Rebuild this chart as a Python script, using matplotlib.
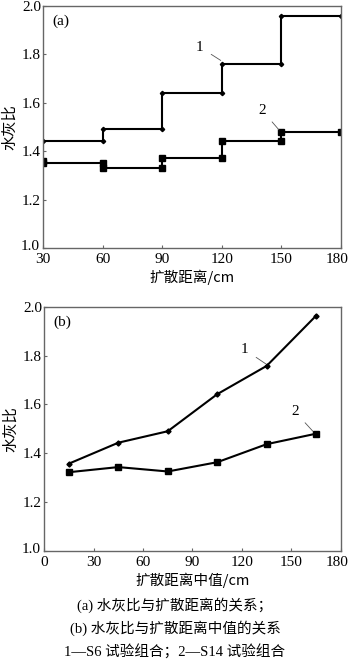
import matplotlib
matplotlib.use("Agg")
import matplotlib.pyplot as plt
from matplotlib.transforms import ScaledTranslation

plt.rcParams['font.family'] = ['Liberation Serif', 'Noto Sans CJK SC']

# (a) step profiles over the diffusion distance
dist_a = [30, 60, 90, 120, 150, 180]
wc_s6_a = [1.44, 1.49, 1.64, 1.76, 1.96]
wc_s14_a_start = [1.36, 1.33, 1.37, 1.44, 1.48]
wc_s14_a = [1.35, 1.33, 1.37, 1.44, 1.48]

# (b) values at the midpoint of each distance interval
dist_mid = [15, 45, 75, 105, 135, 165]
wc_s6_b = [1.357, 1.443, 1.49, 1.642, 1.758, 1.964]
wc_s14_b = [1.322, 1.343, 1.325, 1.363, 1.437, 1.48]

xticks_a = [30, 60, 90, 120, 150, 180]
xticks_b = [0, 30, 60, 90, 120, 150, 180]
yticks = [1.0, 1.2, 1.4, 1.6, 1.8, 2.0]

cjk = ['Noto Sans CJK SC', 'DejaVu Sans']
spine_col = '#666666'
fs = 10.5
tfs = 11

fig = plt.figure(figsize=(3.5, 6.7), dpi=100)
ax1 = fig.add_axes([0.123, 0.630, 0.851, 0.361])
ax2 = fig.add_axes([0.126, 0.178, 0.848, 0.364])


def nudge(label, dx_px, dy_px):
    label.set_transform(label.get_transform() +
                        ScaledTranslation(dx_px / 100, dy_px / 100,
                                          fig.dpi_scale_trans))


def style(ax, xticks, xlim):
    ax.set_xlim(*xlim)
    ax.set_ylim(1.0, 2.0)
    ax.set_xticks(xticks)
    ax.set_yticks(yticks)
    ax.set_yticklabels([f"{v:.1f}" for v in yticks])
    ax.tick_params(direction='in', length=2.5, width=0.8, colors=spine_col,
                   labelcolor='black', labelsize=tfs)
    ax.tick_params(axis='x', pad=3.5)
    ax.tick_params(axis='y', pad=1.5)
    for s in ax.spines.values():
        s.set_color(spine_col)
        s.set_linewidth(1.0)
    ax.set_ylabel('水灰比', family=cjk, fontsize=11, labelpad=2)
    # keep the corner labels apart and the rightmost one inside the figure
    nudge(ax.get_xticklabels()[-1], -4, 0)
    nudge(ax.get_yticklabels()[0], -1, 3)


# ---- panel (a): stepped lines ----
x1, y1 = [], []
for i, v in enumerate(wc_s6_a):
    x1 += [dist_a[i], dist_a[i + 1]]
    y1 += [v, v]
ax1.plot(x1, y1, color='black', lw=1.5, marker='D', ms=2.2)

# S14: the first interval begins with a short jump at the left edge
x2, y2 = [dist_a[0]], [wc_s14_a_start[0]]
for i, v in enumerate(wc_s14_a):
    x2 += [dist_a[i], dist_a[i + 1]]
    y2 += [v, v]
ax1.plot(x2, y2, color='black', lw=1.5, marker='s', ms=3.8)

style(ax1, xticks_a, (30, 180))
ax1.set_xlabel('扩散距离/cm', family=cjk, fontsize=fs, labelpad=3)
ax1.text(0.03, 0.965, '(a)', transform=ax1.transAxes, fontsize=tfs,
         va='top', ha='left')
ax1.annotate('1', xy=(119.5, 1.775), xytext=(109, 1.83), fontsize=tfs,
             ha='center', va='center',
             arrowprops=dict(arrowstyle='-', lw=0.6, color='#555555',
                             shrinkA=4, shrinkB=0))
ax1.annotate('2', xy=(148.8, 1.488), xytext=(140.2, 1.57), fontsize=tfs,
             ha='center', va='center',
             arrowprops=dict(arrowstyle='-', lw=0.6, color='#555555',
                             shrinkA=4, shrinkB=0))

# ---- panel (b): midpoint curves ----
ax2.plot(dist_mid, wc_s6_b, color='black', lw=1.5, marker='D', ms=2.6)
ax2.plot(dist_mid, wc_s14_b, color='black', lw=1.5, marker='s', ms=3.8)
style(ax2, xticks_b, (0, 180))
ax2.set_xlabel('扩散距离中值/cm', family=cjk, fontsize=fs, labelpad=3)
ax2.text(0.03, 0.965, '(b)', transform=ax2.transAxes, fontsize=tfs,
         va='top', ha='left')
ax2.annotate('1', xy=(134.5, 1.766), xytext=(121.8, 1.824), fontsize=tfs,
             ha='center', va='center',
             arrowprops=dict(arrowstyle='-', lw=0.6, color='#555555',
                             shrinkA=4, shrinkB=0))
ax2.annotate('2', xy=(163, 1.49), xytext=(152, 1.571), fontsize=tfs,
             ha='center', va='center',
             arrowprops=dict(arrowstyle='-', lw=0.6, color='#555555',
                             shrinkA=4, shrinkB=0))

# ---- caption ----
cap_fam = ['Liberation Serif', 'Noto Sans CJK SC']
fig.text(0.5, 1 - 605 / 670, '(a) 水灰比与扩散距离的关系；', ha='center',
         va='center', fontsize=fs, family=cap_fam)
fig.text(0.5, 1 - 628 / 670, '(b) 水灰比与扩散距离中值的关系', ha='center',
         va='center', fontsize=fs, family=cap_fam)
fig.text(0.5, 1 - 652 / 670, '1—S6 试验组合；2—S14 试验组合', ha='center',
         va='center', fontsize=fs, family=cap_fam)

fig.savefig('out.png', dpi=100, facecolor='white')
